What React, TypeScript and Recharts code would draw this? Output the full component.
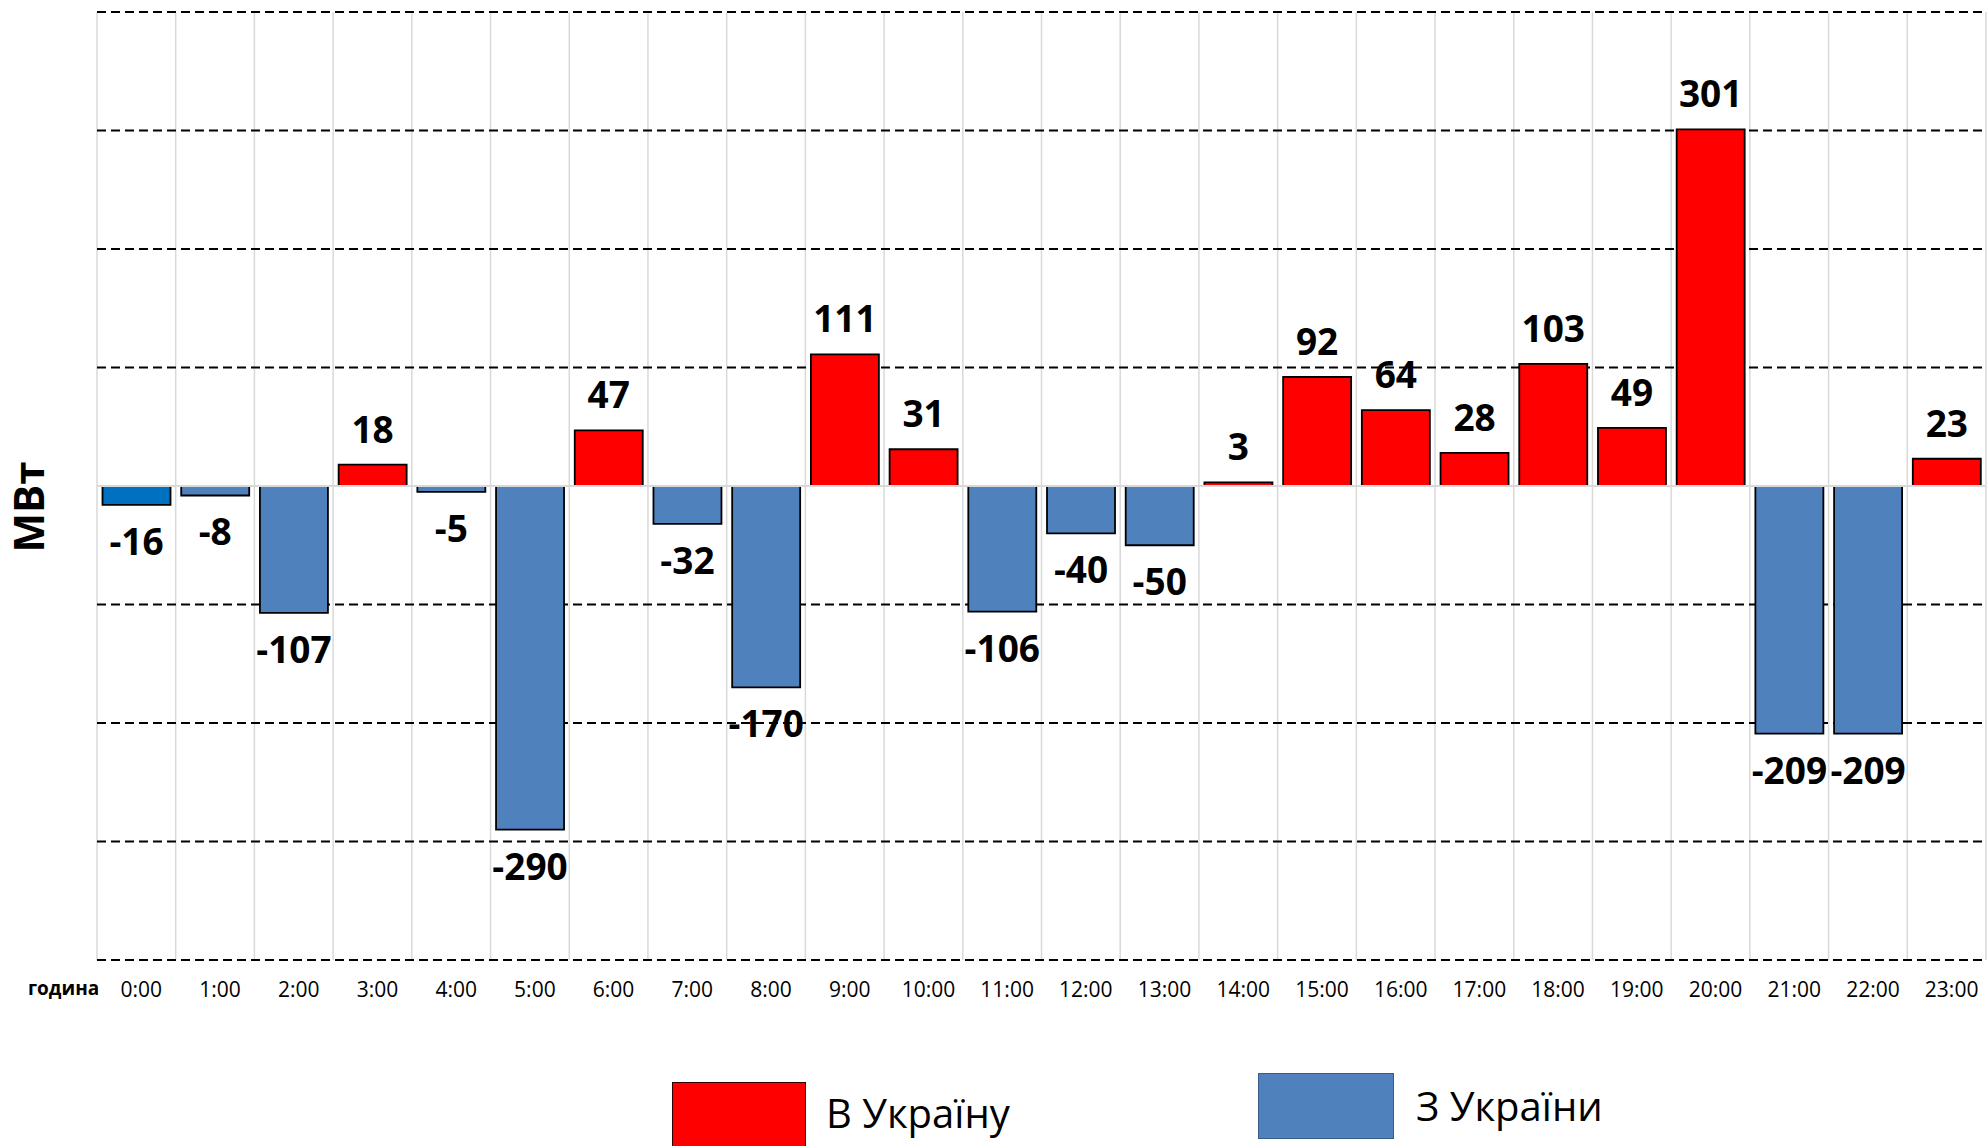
import React from "react";
import {
  BarChart,
  Bar,
  XAxis,
  YAxis,
  CartesianGrid,
  Cell,
  LabelList,
  ReferenceLine,
} from "recharts";

const hours = [
  "0:00", "1:00", "2:00", "3:00", "4:00", "5:00", "6:00", "7:00",
  "8:00", "9:00", "10:00", "11:00", "12:00", "13:00", "14:00", "15:00",
  "16:00", "17:00", "18:00", "19:00", "20:00", "21:00", "22:00", "23:00",
];

// В Україну (import, positive)
const toUkraine: (number | null)[] = [
  null, null, null, 18, null, null, 47, null, null, 111, 31, null,
  null, null, 3, 92, 64, 28, 103, 49, 301, null, null, 23,
];

// З України (export, negative)
const fromUkraine: (number | null)[] = [
  -16, -8, -107, null, -5, -290, null, -32, -170, null, null, -106,
  -40, -50, null, null, null, null, null, null, null, -209, -209, null,
];

const yTicks = [-400, -300, -200, -100, 0, 100, 200, 300, 400];
const gridValues = [-400, -300, -200, -100, 100, 200, 300, 400];

const seriesNames = { to: "В Україну", from: "З України" };
const xAxisTitle = "година";
const yAxisTitle = "МВт";

const RED = "#FF0000";
const BLUE = "#4F81BD";
const BLUE_FIRST = "#0070C0";
const FONT = "'Open Sans', 'Noto Sans', sans-serif";

const data = hours.map((h, i) => ({
  hour: h,
  toUA: toUkraine[i],
  fromUA: fromUkraine[i],
}));

const renderValueLabel = (props: any) => {
  let v = props.value;
  if (Array.isArray(v)) v = v[1] - v[0];
  if (v === null || v === undefined || Number.isNaN(Number(v))) return null;
  v = Number(v);
  const vb = props.viewBox && props.viewBox.width !== undefined ? props.viewBox : props;
  const x = Number(vb.x);
  const y = Number(vb.y);
  const w = Number(vb.width);
  const h = Number(vb.height);
  const top = Math.min(y, y + h);
  const bottom = Math.max(y, y + h);
  const cx = x + w / 2;
  const ty = v >= 0 ? top - 22 : bottom + 50;
  return (
    <text
      x={cx}
      y={ty}
      textAnchor="middle"
      fontFamily={FONT}
      fontWeight={700}
      fontSize={37}
      fill="#000"
    >
      {v}
    </text>
  );
};

const verticalGen = (args: any) => {
  const off = args.offset;
  const n = hours.length;
  const out: number[] = [];
  for (let i = 0; i <= n; i++) out.push(off.left + (i * off.width) / n);
  return out;
};

export default function App() {
  return (
    <div
      style={{
        position: "absolute",
        left: 0,
        top: 0,
        width: 1987,
        height: 1146,
        background: "#fff",
        overflow: "hidden",
        fontFamily: FONT,
      }}
    >
      <BarChart
        width={1987}
        height={1146}
        data={data}
        stackOffset="sign"
        barCategoryGap="7%"
        margin={{ top: 12, right: 1, left: 97, bottom: 126 }}
      >
        <CartesianGrid
          horizontal={false}
          vertical={true}
          stroke="#D9D9D9"
          strokeWidth={1.5}
          verticalCoordinatesGenerator={verticalGen}
        />
        <CartesianGrid
          vertical={false}
          horizontal={true}
          horizontalValues={gridValues}
          stroke="#000"
          strokeWidth={2}
          strokeDasharray="9 5"
        />
        <XAxis
          dataKey="hour"
          axisLine={false}
          tickLine={false}
          height={60}
          tickMargin={16}
          interval={0}
          tick={{ fill: "#000", fontSize: 21, fontFamily: FONT, dx: 5 }}
        />
        <YAxis hide domain={[-400, 400]} ticks={yTicks} allowDataOverflow />
        <ReferenceLine y={0} stroke="#D9D9D9" strokeWidth={2} />
        <Bar
          dataKey="toUA"
          name={seriesNames.to}
          stackId="a"
          fill={RED}
          stroke="#000"
          strokeWidth={1.8}
          isAnimationActive={false}
        >
          <LabelList dataKey="toUA" content={renderValueLabel} />
        </Bar>
        <Bar
          dataKey="fromUA"
          name={seriesNames.from}
          stackId="a"
          fill={BLUE}
          stroke="#000"
          strokeWidth={1.8}
          isAnimationActive={false}
        >
          {data.map((_, i) => (
            <Cell key={i} fill={i === 0 ? BLUE_FIRST : BLUE} />
          ))}
          <LabelList dataKey="fromUA" content={renderValueLabel} />
        </Bar>
      </BarChart>

      <div
        style={{
          position: "absolute",
          left: 28,
          top: 988,
          transform: "translate(0, -50%)",
          fontSize: 19,
          fontWeight: 700,
          color: "#000",
          lineHeight: 1,
        }}
      >
        {xAxisTitle}
      </div>

      <div
        style={{
          position: "absolute",
          left: 28,
          top: 507,
          transform: "translate(-50%, -50%) rotate(-90deg)",
          fontSize: 42,
          fontWeight: 700,
          color: "#000",
          lineHeight: 1,
          whiteSpace: "nowrap",
        }}
      >
        {yAxisTitle}
      </div>

      <div
        style={{
          position: "absolute",
          left: 672,
          top: 1082,
          width: 134,
          height: 66,
          background: RED,
          border: "1px solid #300",
          boxSizing: "border-box",
        }}
      />
      <div
        style={{
          position: "absolute",
          left: 826,
          top: 1113,
          transform: "translate(0, -50%)",
          fontSize: 40,
          color: "#000",
          lineHeight: 1,
          whiteSpace: "nowrap",
        }}
      >
        {seriesNames.to}
      </div>

      <div
        style={{
          position: "absolute",
          left: 1258,
          top: 1073,
          width: 136,
          height: 66,
          background: BLUE,
          border: "1.5px solid #385D8A",
          boxSizing: "border-box",
        }}
      />
      <div
        style={{
          position: "absolute",
          left: 1416,
          top: 1106,
          transform: "translate(0, -50%)",
          fontSize: 40,
          color: "#000",
          lineHeight: 1,
          whiteSpace: "nowrap",
        }}
      >
        {seriesNames.from}
      </div>
    </div>
  );
}
